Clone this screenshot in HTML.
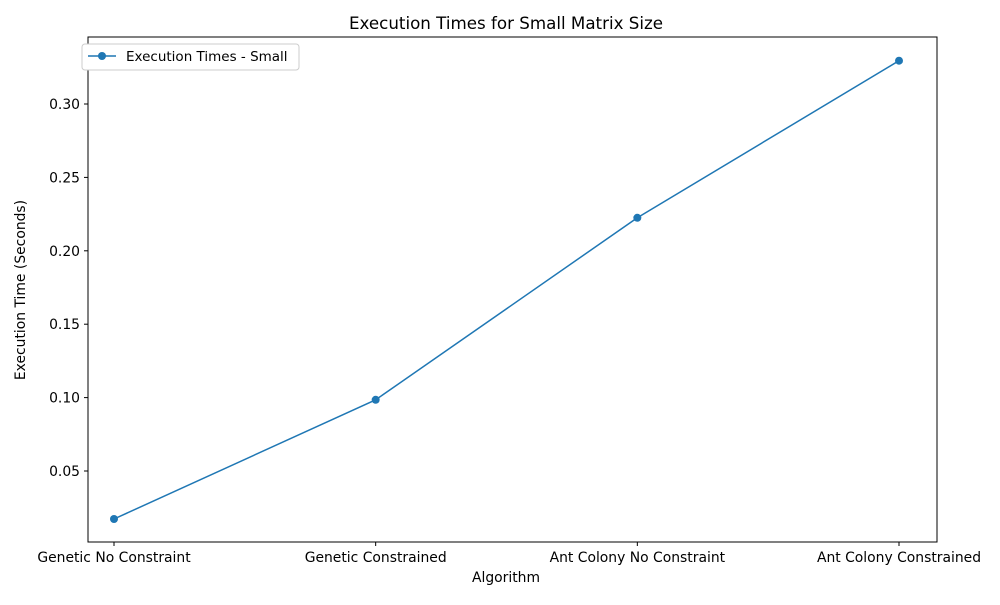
<!DOCTYPE html>
<html><head><meta charset="utf-8"><style>
body{margin:0;background:#fff;}
svg text{font-family:"DejaVu Sans","Liberation Sans",sans-serif;fill:#000;}
</style></head><body>
<svg width="1000" height="600" id="chart">
<rect width="1000" height="600" fill="#fff"/>
<text x="506" y="29" font-size="16.7" text-anchor="middle">Execution Times for Small Matrix Size</text>
<text x="506" y="582" font-size="13.9" text-anchor="middle">Algorithm</text>
<text transform="translate(25,290) rotate(-90)" font-size="13.9" text-anchor="middle">Execution Time (Seconds)</text>
<g id="ticks"></g>
<g id="series"></g>
<rect x="88" y="37" width="849" height="505" fill="none" stroke="#000" stroke-width="1"/>
<g>
<rect x="82" y="44" width="217" height="26" rx="3" fill="#fff" stroke="#ccc"/>
<line x1="88" y1="56" x2="116" y2="56" stroke="#1f77b4" stroke-width="1.5"/>
<circle cx="102" cy="56" r="4" fill="#1f77b4"/>
<text x="126" y="61" font-size="13.5">Execution Times - Small</text>
</g>
</svg>
<script>
const categories=["Genetic No Constraint","Genetic Constrained","Ant Colony No Constraint","Ant Colony Constrained"];
const values=[0.0173,0.0985,0.2225,0.3295];
const yTicks=[0.05,0.10,0.15,0.20,0.25,0.30];
const yTickLabels=["0.05","0.10","0.15","0.20","0.25","0.30"];
const NS="http://www.w3.org/2000/svg";
function xs(i){return 114+i*(899-114)/(categories.length-1);}
function ys(v){return 471-(v-0.05)*(471-104)/0.25;}
const tg=document.getElementById('ticks');
function mk(t,a,p){const e=document.createElementNS(NS,t);for(const k in a)e.setAttribute(k,a[k]);p.appendChild(e);return e;}
yTicks.forEach((v,i)=>{const y=ys(v);
mk('line',{x1:84,x2:88,y1:y,y2:y,stroke:'#000'},tg);
const t=mk('text',{x:80,y:y+5,'font-size':13.9,'text-anchor':'end'},tg);t.textContent=yTickLabels[i];

});
categories.forEach((c,i)=>{const x=xs(i);
mk('line',{x1:x,x2:x,y1:542,y2:546,stroke:'#000'},tg);
const t=mk('text',{x:x,y:562,'font-size':13.9,'text-anchor':'middle'},tg);t.textContent=c;

});
const sg=document.getElementById('series');
const pl=mk('polyline',{points:values.map((v,i)=>xs(i)+','+ys(v)).join(' '),fill:'none',stroke:'#1f77b4','stroke-width':1.5},sg);


values.forEach((v,i)=>{const c=mk('circle',{cx:xs(i),cy:ys(v),r:4,fill:'#1f77b4'},sg);

});
</script>
</body></html>
